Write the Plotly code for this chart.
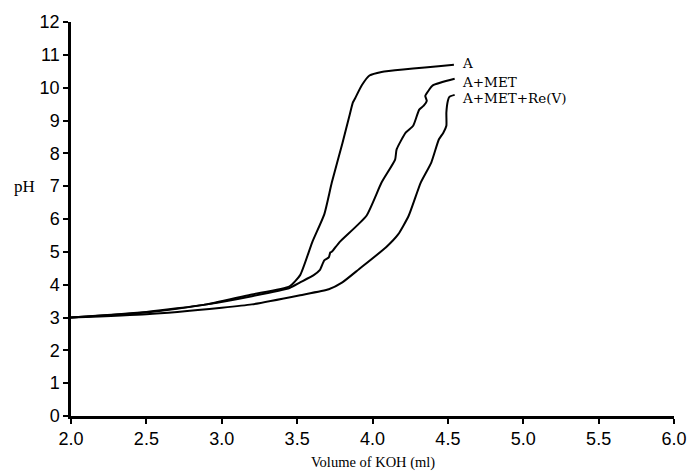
import plotly.graph_objects as go

# Titration curves: volume of KOH (ml) vs pH
vol_a = [2.0, 2.5, 2.9, 3.2, 3.45, 3.52, 3.60, 3.68, 3.73, 3.80, 3.85, 3.87, 3.885, 3.93, 3.98, 4.06, 4.54]
ph_a = [3.0, 3.17, 3.4, 3.7, 3.95, 4.29, 5.29, 6.14, 7.11, 8.3, 9.2, 9.55, 9.68, 10.08, 10.37, 10.48, 10.7]

vol_met = [2.0, 2.5, 2.9, 3.2, 3.45, 3.52, 3.61, 3.65, 3.68, 3.71, 3.72, 3.73, 3.78, 3.96, 4.06,
           4.15, 4.16, 4.22, 4.27, 4.31, 4.34, 4.36, 4.35, 4.37, 4.40, 4.545]
ph_met = [3.0, 3.15, 3.4, 3.65, 3.9, 4.07, 4.29, 4.44, 4.74, 4.83, 4.98, 5.0, 5.29, 6.1, 7.11,
          7.81, 8.12, 8.63, 8.84, 9.33, 9.45, 9.6, 9.75, 9.9, 10.07, 10.27]

vol_re = [2.0, 2.5, 3.0, 3.2, 3.52, 3.71, 3.80, 3.91, 4.09, 4.17, 4.24, 4.32, 4.39, 4.44, 4.47,
          4.49, 4.49, 4.50, 4.51, 4.545]
ph_re = [3.0, 3.1, 3.3, 3.4, 3.68, 3.86, 4.07, 4.47, 5.14, 5.53, 6.1, 7.11, 7.72, 8.42, 8.63,
         8.84, 9.24, 9.6, 9.72, 9.78]

series = [
    ("A", vol_a, ph_a, 10.75),
    ("A+MET", vol_met, ph_met, 10.18),
    ("A+MET+Re(V)", vol_re, ph_re, 9.7),
]

x_ticks = [2.0, 2.5, 3.0, 3.5, 4.0, 4.5, 5.0, 5.5, 6.0]
y_ticks = list(range(0, 13))

fig = go.Figure()
annotations = []
for name, xs, ys, label_y in series:
    fig.add_trace(go.Scatter(
        x=xs, y=ys, mode="lines", name=name,
        line=dict(color="black", width=2, shape="spline", smoothing=0.5),
        showlegend=False,
    ))
    annotations.append(dict(
        x=4.58, y=label_y, xref="x", yref="y", text=name, showarrow=False,
        xanchor="left", yanchor="middle",
        font=dict(family="DejaVu Serif", size=13.5, color="black"),
    ))

# vertical-axis caption, written horizontally beside the 7 tick
annotations.append(dict(
    x=-0.077, y=7, xref="x domain", yref="y", text="pH", showarrow=False,
    xanchor="center", yanchor="middle",
    font=dict(family="Liberation Serif", size=17, color="black"),
))
annotations.append(dict(
    x=0.5, y=-0.118, xref="paper", yref="paper", text="Volume of KOH (ml)",
    showarrow=False, yanchor="middle",
    font=dict(family="Liberation Serif", size=14.5, color="black"),
))

axis_common = dict(
    showgrid=False, zeroline=False, showline=True, linecolor="black", linewidth=2.5,
    ticks="outside", tickcolor="black", tickwidth=2, ticklen=5, automargin=False,
    tickfont=dict(family="Liberation Sans Narrow, Liberation Sans", size=18, color="black"),
)

fig.update_layout(
    width=688, height=474,
    margin=dict(l=71, r=14, t=22, b=58),
    plot_bgcolor="white", paper_bgcolor="white",
    xaxis=dict(range=[2.0, 6.0], tickvals=x_ticks, ticktext=[f"{v:.1f}" for v in x_ticks], **axis_common),
    yaxis=dict(range=[0, 12], tickvals=y_ticks, **axis_common),
    annotations=annotations,
)

fig.write_html("out.html")
